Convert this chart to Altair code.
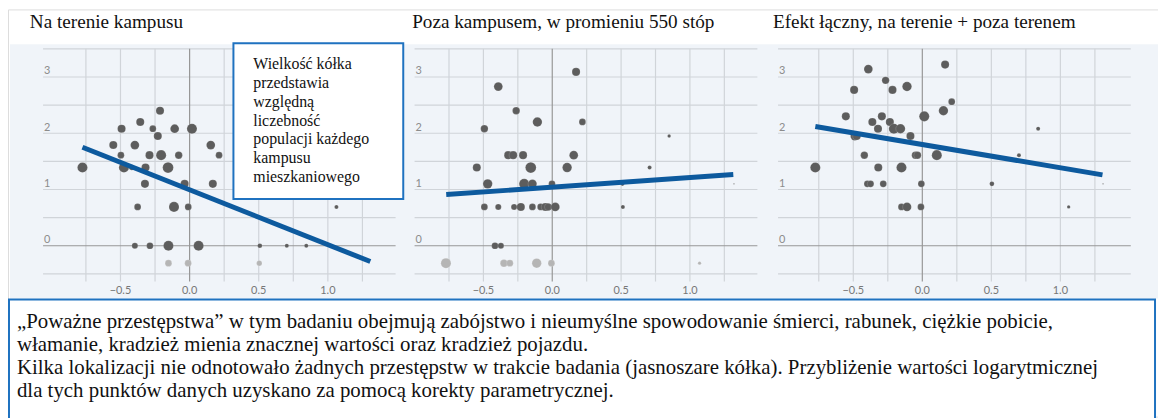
import altair as alt
import pandas as pd

# ---------------- data ----------------
panel_titles = [
    "Na terenie kampusu",
    "Poza kampusem, w promieniu 550 stóp",
    "Efekt łączny, na terenie + poza terenem",
]

# panel 1: on campus (x = predictor, y = log crime count, pop = relative population)
x1 = [-0.775, -0.552, -0.492, -0.497, -0.475, -0.418, -0.396, -0.376, -0.357, -0.319,
      -0.323, -0.29, -0.266, -0.23, -0.214, -0.206, -0.156, -0.113, -0.108, -0.079,
      -0.036, -0.01, 0.017, 0.153, 0.168, 0.213, 1.062, -0.396, -0.287, -0.153,
      0.065, 0.508, 0.703, 0.844, -0.153, -0.011, 0.504]
y1 = [1.39, 1.79, 2.08, 1.61, 1.39, 1.39, 1.79, 0.69, 2.20, 1.39,
      1.10, 1.61, 2.08, 1.95, 2.40, 1.61, 1.39, 0.69, 2.08, 1.61,
      1.10, 0.69, 2.08, 1.79, 1.10, 1.61, 0.69, 0.0, 0.0, 0.0,
      0.0, 0.0, 0.0, 0.0, -0.31, -0.31, -0.31]
pop1 = [22.5, 14.4, 14.4, 10, 22.5, 6.4, 16.9, 10, 14.4, 14.4,
        14.4, 14.4, 10, 14.4, 14.4, 22.5, 25.6, 22.5, 16.9, 12.1,
        14.4, 10, 22.5, 16.9, 14.4, 10, 3.6, 8.1, 10, 22.5,
        22.5, 4.9, 3.6, 3.6, 10, 10, 6.4]

# panel 2: off campus within 550 ft
x2 = [-0.772, -0.548, -0.493, -0.493, -0.469, -0.416, -0.373, -0.392, -0.392, -0.351,
      -0.308, -0.32, -0.284, -0.277, -0.262, -0.228, -0.212, -0.204, -0.156, -0.144,
      -0.144, -0.113, -0.108, -0.084, -0.05, -0.03, -0.002, -0.006, 0.022, 0.108,
      0.156, 0.173, 0.219, 0.51, 0.513, 0.707, 0.849, 1.07, 1.32]
y2 = [-0.31, 1.39, 2.08, 0.69, 1.10, 0.0, 0.0, 0.69, 2.83, -0.31,
      -0.31, 1.61, 1.61, 0.69, 2.40, 0.69, 1.61, 1.10, 1.39, 1.10,
      0.69, -0.31, 2.20, 0.69, 0.69, 0.69, 1.10, -0.31, 0.69, 1.39,
      1.61, 3.09, 2.20, 1.10, 0.69, 1.39, 1.95, -0.31, 1.10]
pop2 = [22.5, 14.4, 12.1, 10, 19.6, 10, 8.1, 8.1, 16.9, 12.1,
        10, 14.4, 14.4, 8.1, 12.1, 14.4, 14.4, 22.5, 25.6, 16.9,
        10, 19.6, 19.6, 10, 14.4, 12.1, 10, 10, 16.9, 19.6,
        16.9, 14.4, 10, 3.6, 3.6, 3.6, 2.5, 2.5, 0.4]

# panel 3: combined effect
x3 = [-0.775, -0.554, -0.494, -0.489, -0.475, -0.42, -0.398, -0.375, -0.391, -0.362,
      -0.321, -0.319, -0.293, -0.283, -0.266, -0.235, -0.216, -0.206, -0.158, -0.151,
      -0.151, -0.111, -0.111, -0.086, -0.05, -0.035, -0.007, -0.01, 0.014, 0.105,
      0.153, 0.165, 0.213, 0.504, 0.70, 0.839, 1.06, 1.309]
y3 = [1.39, 2.30, 2.77, 1.95, 1.95, 1.61, 1.10, 1.10, 3.14, 2.20,
      2.08, 1.39, 2.30, 1.10, 2.94, 2.20, 2.77, 2.08, 2.08, 1.39,
      0.69, 0.69, 2.83, 1.95, 1.61, 1.61, 1.10, 0.69, 2.30, 1.61,
      2.40, 3.22, 2.56, 1.10, 1.61, 2.08, 0.69, 1.10]
pop3 = [22.5, 14.4, 14.4, 16.9, 14.4, 12.1, 10, 10, 16.9, 14.4,
        14.4, 14.4, 14.4, 10, 12.1, 14.4, 14.4, 22.5, 19.6, 22.5,
        10, 16.9, 19.6, 14.4, 12.1, 12.1, 10, 10, 22.5, 22.5,
        19.6, 14.4, 10, 4.9, 3.6, 3.6, 2.5, 0.4]

# fitted regression lines (end points)
line1_x = [-0.775, 1.307]
line1_y = [1.75, -0.28]
line2_x = [-0.77, 1.315]
line2_y = [0.91, 1.265]
line3_x = [-0.775, 1.305]
line3_y = [2.12, 1.26]

y_tick_values = [0, 1, 2, 3]
y_tick_labels = ["0", "1", "2", "3"]
x_tick_values = [-0.5, 0.0, 0.5, 1.0]
x_tick_labels = ["−0.5", "0.0", "0.5", "1.0"]
grid_x = [-0.75, -0.5, -0.25, 0.25, 0.5, 0.75, 1.0, 1.25]
grid_y = [-0.5, 0.5, 1.0, 1.5, 2.0, 2.5, 3.0, 3.5]

note_lines = ["Wielkość kółka", "przedstawia", "względną", "liczebność",
              "populacji każdego", "kampusu", "mieszkaniowego"]
footer_lines = [
    "„Poważne przestępstwa” w tym badaniu obejmują zabójstwo i nieumyślne spowodowanie śmierci, rabunek, ciężkie pobicie,",
    "włamanie, kradzież mienia znacznej wartości oraz kradzież pojazdu.",
    "Kilka lokalizacji nie odnotowało żadnych przestępstw w trakcie badania (jasnoszare kółka). Przybliżenie wartości logarytmicznej",
    "dla tych punktów danych uzyskano za pomocą korekty parametrycznej.",
]

# ---------------- styles ----------------
W, H = 1158, 410
BG = "#f0f4f9"
GRID = "#d0d4d9"
ZERO = "#979797"
DARK = "#5d5d5d"
LIGHT = "#b5b5b5"
LINE = "#0d5a9e"
BOXBLUE = "#1f72c0"
SERIF = "Liberation Serif"
SANS = "Lato"

Y_DOM = [-0.5, 3.5]
YS = alt.Scale(domain=Y_DOM, range=[266.3, 39.7], nice=False, zero=False)
SIZE = alt.Scale(domain=[0, 25.6], range=[0, 118])
COLOR = alt.Scale(domain=["jest", "brak"], range=[DARK, LIGHT])


def panel(xs, ys, pops, lx, ly, dom, rng, title, title_x):
    XS = alt.Scale(domain=dom, range=rng, nice=False, zero=False)
    vgrid = alt.Chart(pd.DataFrame({"g": grid_x})).mark_rule(color=GRID, strokeWidth=1.2).encode(
        x=alt.X("g:Q", scale=XS, axis=None),
        y=alt.YDatum(3.5, scale=YS, axis=None),
        y2=alt.Y2Datum(-0.636),
    )
    hgrid = alt.Chart(pd.DataFrame({"g": grid_y})).mark_rule(color=GRID, strokeWidth=1.2).encode(
        y=alt.Y("g:Q", scale=YS, axis=None),
        x=alt.XDatum(dom[0], scale=XS, axis=None),
        x2=alt.X2Datum(dom[1]),
    )
    vzero = alt.Chart(pd.DataFrame({"g": [0.0]})).mark_rule(color=ZERO, strokeWidth=1.2).encode(
        x=alt.X("g:Q", scale=XS, axis=None),
        y=alt.YDatum(3.5, scale=YS, axis=None),
        y2=alt.Y2Datum(-0.636),
    )
    hzero = alt.Chart(pd.DataFrame({"g": [0.0]})).mark_rule(color=ZERO, strokeWidth=1.2).encode(
        y=alt.Y("g:Q", scale=YS, axis=None),
        x=alt.XDatum(dom[0], scale=XS, axis=None),
        x2=alt.X2Datum(dom[1]),
    )
    df = pd.DataFrame({"x": xs, "y": ys, "pop": pops})
    df["grupa"] = ["brak" if v < -0.1 else "jest" for v in ys]
    pts = alt.Chart(df).mark_circle(opacity=1, stroke="white", strokeWidth=0.3, strokeOpacity=0.5).encode(
        x=alt.X("x:Q", scale=XS, axis=None),
        y=alt.Y("y:Q", scale=YS, axis=None),
        size=alt.Size("pop:Q", scale=SIZE, legend=None),
        color=alt.Color("grupa:N", scale=COLOR, legend=None),
    )
    reg = alt.Chart(pd.DataFrame({"x": lx, "y": ly})).mark_line(
        color=LINE, strokeWidth=5, strokeCap="butt"
    ).encode(
        x=alt.X("x:Q", scale=XS, axis=None),
        y=alt.Y("y:Q", scale=YS, axis=None),
    )
    ylab = alt.Chart(pd.DataFrame({"v": y_tick_values, "t": y_tick_labels})).mark_text(
        align="left", baseline="alphabetic", dx=1, dy=-2.5, font=SANS, fontSize=11, color="#8c8c8c"
    ).encode(
        x=alt.XDatum(dom[0], scale=XS, axis=None),
        y=alt.Y("v:Q", scale=YS, axis=None),
        text="t:N",
    )
    xlab = alt.Chart(pd.DataFrame({"v": x_tick_values, "t": x_tick_labels})).mark_text(
        align="center", baseline="middle", dy=17, font=SANS, fontSize=11, color="#777777"
    ).encode(
        x=alt.X("v:Q", scale=XS, axis=None),
        y=alt.YDatum(-0.5, scale=YS, axis=None),
        text="t:N",
    )
    ttl = alt.Chart(pd.DataFrame({"t": [title]})).mark_text(
        align="left", baseline="alphabetic", font=SERIF, fontSize=19.3, color="#111111"
    ).encode(
        x=alt.value(title_x), y=alt.value(18.7), text="t:N"
    )
    return alt.layer(vgrid, hgrid, vzero, hzero, pts, reg, ylab, xlab, ttl)


bg = alt.Chart(pd.DataFrame({"a": [0]})).mark_rect(color=BG).encode(
    x=alt.value(2), x2=alt.value(W), y=alt.value(35), y2=alt.value(291)
)

p1 = panel(x1, y1, pop1, line1_x, line1_y, [-1.06, 1.49], [35.3, 390.3], panel_titles[0], 22)
p2 = panel(x2, y2, pop2, line2_x, line2_y, [-1.0, 1.49], [409.4, 754.6], panel_titles[1], 407)
p3 = panel(x3, y3, pop3, line3_x, line3_y, [-1.045, 1.51], [775.4, 1130.6], panel_titles[2], 770.3)

note_box = alt.Chart(pd.DataFrame({"a": [0]})).mark_rect(
    fill="white", stroke=BOXBLUE, strokeWidth=2
).encode(x=alt.value(227), x2=alt.value(398), y=alt.value(34), y2=alt.value(191))
note_text = alt.Chart(pd.DataFrame({"a": [0]})).mark_text(
    align="left", baseline="alphabetic", font=SERIF, fontSize=16, lineHeight=18.9,
    color="#111111", text=note_lines
).encode(x=alt.value(247), y=alt.value(60.3))

foot_box = alt.Chart(pd.DataFrame({"a": [0]})).mark_rect(
    fill="white", stroke=BOXBLUE, strokeWidth=2
).encode(x=alt.value(1), x2=alt.value(1155), y=alt.value(292), y2=alt.value(416))
foot_text = alt.Chart(pd.DataFrame({"a": [0]})).mark_text(
    align="left", baseline="alphabetic", font=SERIF, fontSize=21, lineHeight=23.3,
    color="#111111", text=footer_lines
).encode(x=alt.value(9), y=alt.value(320.5))

chart = alt.layer(bg, p1, p2, p3, note_box, note_text, foot_box, foot_text).resolve_scale(
    x="independent"
).properties(
    width=W, height=H, padding=0, autosize=alt.AutoSizeParams(type="none")
).configure_view(stroke=None).configure(background="white")

chart.save("out.html", embed_options={"renderer": "svg", "actions": False})
